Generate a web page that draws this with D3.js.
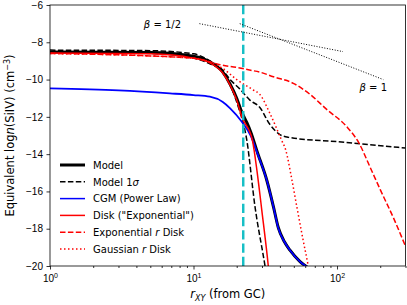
<!DOCTYPE html>
<html>
<head>
<meta charset="utf-8">
<script src="https://cdn.jsdelivr.net/npm/d3@7.9.0/dist/d3.min.js"></script>
<style>
  body { margin: 0; background: #fff; }
  svg { font-family: "DejaVu Sans", sans-serif; }
  .tick text { font-size: 10px; }
</style>
</head>
<body>
<svg id="chart" width="407" height="305"></svg>
<script>
// ---- data: [r_XY, log n] ----
const model = [[1, -8.52], [5, -8.55], [10, -8.75], [13, -9.05], [16, -9.6], [18, -10.25], [20, -11.0], [21.7, -11.75], [23.5, -12.3], [25, -12.8], [28, -13.95], [32.4, -15.4], [36, -16.8], [39, -17.95], [43, -18.7], [47, -19.15], [55, -19.75], [63, -20.1]];
const modelHi = [[1, -8.42], [5, -8.45], [10, -8.62], [13, -9.0], [16, -9.5], [18, -10.0], [21, -10.5], [24.7, -11.1], [29, -11.5], [34, -12.4], [40, -12.95], [46, -13.1], [100, -13.33], [300, -13.67]];
const modelLo = [[1, -8.55], [5, -8.6], [10, -8.85], [13, -9.15], [15.7, -9.5], [18, -10.3], [20.5, -11.46], [23.5, -13.24], [26.8, -16.8], [31.5, -20], [33, -21]];
const cgm = [[1, -10.47], [3, -10.58], [6.85, -10.74], [10, -10.83], [13, -10.92], [16, -11.2], [18, -11.54], [21.7, -12.26], [25, -13.0], [28, -14.0], [32.4, -15.4], [36, -16.8], [39, -17.98], [43, -18.7], [47, -19.15], [55, -19.75], [63, -20.1]];
const disk = [[1, -8.58], [5, -8.62], [10, -8.85], [13, -9.1], [16, -9.65], [18, -10.3], [20, -11.1], [21.7, -12.0], [25.7, -13.24], [27.8, -15.0], [29.9, -17.0], [33.2, -20], [34, -20.8]];
const expDisk = [[1, -8.6], [10, -8.85], [13, -9.05], [15.3, -9.2], [20, -9.35], [25, -9.5], [29, -9.6], [36, -9.85], [49.6, -10.2], [65, -10.8], [84.7, -11.6], [117, -12.53], [142, -13.4], [170, -14.7], [200, -15.9], [250, -17.5], [301, -18.97]];
const gaussDisk = [[1, -8.6], [10, -8.85], [13, -9.05], [16, -9.4], [20, -10.0], [26, -10.55], [29, -10.8], [34, -11.8], [41, -13.24], [44, -13.8], [48, -15.2], [52.4, -16.8], [58, -18.6], [63, -20], [65, -20.6]];
const betaHalf = [[11, -7.0], [110, -8.5]];
const betaOne = [[21, -7.0], [210, -10.0]];
const rCut = 22.2;

const yTicks = [-20, -18, -16, -14, -12, -10, -8, -6];
const xMajor = [1, 10, 100];
const xMinor = [2, 3, 4, 5, 6, 7, 8, 9, 20, 30, 40, 50, 60, 70, 80, 90, 200, 300];

const legendItems = [
  { label: 'Model', color: '#000', width: 3, dash: null },
  { label: 'Model 1σ', color: '#000', width: 1.5, dash: '5.5,2.4' },
  { label: 'CGM (Power Law)', color: '#0000ff', width: 1.5, dash: null },
  { label: 'Disk ("Exponential")', color: '#ff0000', width: 1.5, dash: null },
  { label: 'Exponential r Disk', color: '#ff0000', width: 1.5, dash: '5.5,2.4' },
  { label: 'Gaussian r Disk', color: '#ff0000', width: 1.5, dash: '1.5,2.5' },
];

// ---- layout ----
const L = 50, R = 405.5, T = 5, B = 266;
const svg = d3.select('#chart');
const x = d3.scaleLog().domain([1, 300]).range([L, R]);
const y = d3.scaleLinear().domain([-20, -6]).range([B, T]);

svg.append('clipPath').attr('id', 'clip')
  .append('rect').attr('x', L).attr('y', T).attr('width', R - L).attr('height', B - T);

const line = d3.line()
  .x(d => x(d[0]))
  .y(d => y(d[1]))
  .curve(d3.curveMonotoneX);

const plot = svg.append('g').attr('clip-path', 'url(#clip)');

function draw(data, color, width, dash) {
  plot.append('path')
    .datum(data)
    .attr('d', line)
    .attr('fill', 'none')
    .attr('stroke', color)
    .attr('stroke-width', width)
    .attr('stroke-dasharray', dash)
    .attr('stroke-linejoin', 'round');
}

draw(model, '#000', 3, null);
draw(modelHi, '#000', 1.5, '5.5,2.4');
draw(modelLo, '#000', 1.5, '5.5,2.4');
draw(cgm, '#0000ff', 1.8, null);
draw(disk, '#ff0000', 1.5, null);
draw(expDisk, '#ff0000', 1.5, '5.5,2.4');
draw(gaussDisk, '#ff0000', 1.5, '1.5,2.5');

// cut radius
plot.append('line')
  .attr('x1', x(rCut)).attr('x2', x(rCut))
  .attr('y1', T).attr('y2', B)
  .attr('stroke', '#17bfc6')
  .attr('stroke-width', 2.5)
  .attr('stroke-dasharray', '9.25,4');

// power-law guides
const straight = d3.line().x(d => x(d[0])).y(d => y(d[1]));
[betaHalf, betaOne].forEach(d => {
  plot.append('path').datum(d).attr('d', straight)
    .attr('fill', 'none').attr('stroke', '#000')
    .attr('stroke-width', 1).attr('stroke-dasharray', '1,1.65');
});

function betaLabel(px, py, val) {
  const t = svg.append('text').attr('x', px).attr('y', py)
    .attr('font-size', 10).attr('text-anchor', 'middle');
  t.append('tspan').attr('font-style', 'italic').text('β');
  t.append('tspan').text(' = ' + val);
}
betaLabel(x(betaHalf[0][0]) - 37, y(betaHalf[0][1]) + 4, '1/2');
betaLabel(x(betaOne[1][0]) - 10, y(betaOne[1][1]) + 11, '1');

// ---- axes ----
svg.append('g')
  .attr('transform', `translate(0,${B})`)
  .call(d3.axisBottom(x).tickValues(xMinor).tickSize(2).tickFormat(''))
  .call(g => g.select('.domain').remove());

const xAxis = svg.append('g')
  .attr('transform', `translate(0,${B})`)
  .call(d3.axisBottom(x).tickValues(xMajor).tickSize(3.5).tickPadding(3.5).tickFormat(''))
  .call(g => g.select('.domain').remove());
xAxis.selectAll('.tick').append('text')
  .attr('fill', '#000').attr('y', 16).attr('text-anchor', 'middle')
  .each(function (d) {
    const t = d3.select(this);
    t.append('tspan').text('10');
    t.append('tspan').attr('dy', -4).attr('font-size', 7).text(Math.round(Math.log10(d)));
  });

svg.append('g')
  .attr('transform', `translate(${L},0)`)
  .call(d3.axisLeft(y).tickValues(yTicks).tickSize(3.5).tickPadding(3.5)
    .tickFormat(d => String(d).replace('-', '−')))
  .call(g => g.select('.domain').remove());

svg.selectAll('.tick line').attr('stroke', '#000').attr('stroke-width', 0.8);

svg.append('rect')
  .attr('x', L).attr('y', T).attr('width', R - L).attr('height', B - T)
  .attr('fill', 'none').attr('stroke', '#000').attr('stroke-width', 0.8);

// axis labels
const xl = svg.append('text').attr('x', (L + R) / 2).attr('y', 298)
  .attr('text-anchor', 'middle').attr('font-size', 11.5);
xl.append('tspan').attr('font-style', 'italic').text('r');
xl.append('tspan').attr('font-style', 'italic').attr('font-size', 8).attr('dy', 2.5).text('XY');
xl.append('tspan').attr('dy', -2.5).text(' (from GC)');

const yl = svg.append('text')
  .attr('transform', `translate(14,${(T + B) / 2}) rotate(-90)`)
  .attr('text-anchor', 'middle').attr('font-size', 11.5);
yl.append('tspan').text('Equivalent log');
yl.append('tspan').attr('font-style', 'italic').text('n');
yl.append('tspan').text('(SiIV) (cm');
yl.append('tspan').attr('font-size', 8).attr('dy', -4.5).text('−3');
yl.append('tspan').attr('dy', 4.5).text(')');

// ---- legend ----
const legend = svg.append('g');
legendItems.forEach((d, i) => {
  const ly = 165 + i * 16.8;
  legend.append('line')
    .attr('x1', 60).attr('x2', 85).attr('y1', ly).attr('y2', ly)
    .attr('stroke', d.color).attr('stroke-width', d.width)
    .attr('stroke-dasharray', d.dash);
  const t = legend.append('text').attr('x', 93).attr('y', ly + 3.7).attr('font-size', 10);
  if (d.label.includes(' r ')) {
    const parts = d.label.split(' r ');
    t.append('tspan').text(parts[0] + ' ');
    t.append('tspan').attr('font-style', 'italic').text('r');
    t.append('tspan').text(' ' + parts[1]);
  } else if (d.label.endsWith('σ')) {
    t.append('tspan').text('Model 1');
    t.append('tspan').attr('font-style', 'italic').text('σ');
  } else {
    t.text(d.label);
  }
});
</script>
</body>
</html>
